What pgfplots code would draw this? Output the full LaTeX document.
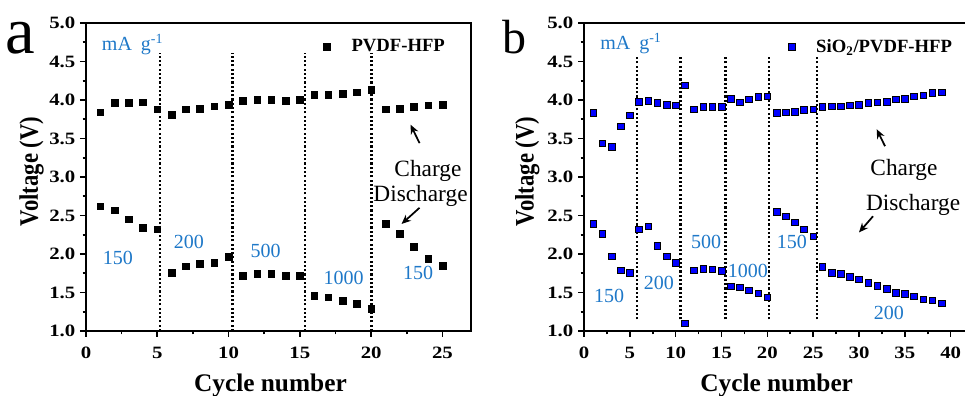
\documentclass[border=0pt]{standalone}
\usepackage{fontspec}
\setmainfont{Liberation Serif}
\newfontfamily\tickfont[FakeStretch=1.2]{Liberation Serif}
\newfontfamily\ylabfont[FakeStretch=0.85]{Liberation Serif}
\usepackage{pgfplots}
\pgfplotsset{compat=1.18}
\usetikzlibrary{arrows.meta}
\definecolor{txtblue}{RGB}{30,120,200}
\definecolor{ptblue}{RGB}{0,0,255}

\pgfplotsset{
  myaxis/.style={
    scale only axis, height=231pt,
    ymin=1, ymax=5, ytick={1,1.5,2,2.5,3,3.5,4,4.5,5},
    yticklabel style={/pgf/number format/.cd, fixed, fixed zerofill, precision=1},
    xticklabel style={yshift=-4pt},
    tick align=outside, xtick pos=left, ytick pos=left,
    major tick length=4.5pt, minor tick length=2.5pt,
    minor x tick num=1, minor y tick num=1,
    axis line style={line width=1.5pt},
    every tick/.append style={line width=1.2pt, black},
    tick label style={font=\tickfont\bfseries\fontsize{13}{15}\selectfont},
    /pgf/number format/assume math mode=true,
    ylabel={Voltage (V)}, xlabel={Cycle number},
    ylabel style={font=\ylabfont\bfseries\fontsize{20}{22}\selectfont, at={(axis description cs:-0.125,0.518)}, anchor=base, rotate=0},
    xlabel style={font=\bfseries\fontsize{19}{21}\selectfont, anchor=base},
    clip=false,
    legend style={draw=none, fill=none, inner sep=0pt, column sep=14pt, font=\bfseries\fontsize{14}{16}\selectfont, anchor=west},
    legend cell align=left,
  },
}
\tikzset{
  dots/.style={black, line width=1.8pt, dash pattern=on 1.6pt off 1.6pt},
  ann/.style={font=\fontsize{15}{17}\selectfont, text=txtblue, inner sep=0pt},
  cd/.style={font=\fontsize{17.5}{19}\selectfont, inner sep=0pt, anchor=base},
  arr/.style={-{Stealth[length=7pt,width=6pt]}, line width=1.3pt, black},
}

\begin{document}
\begin{tikzpicture}

% ---------------- panel a ----------------
\begin{axis}[myaxis, width=288.75pt, at={(64.5pt,48.75pt)}, anchor=south west,
  xmin=0, xmax=27, xtick={0,5,10,15,20,25},
  xlabel style={at={(axis description cs:0.479,-0.197)}},
  legend style={at={(axis cs:16.64,4.69)}}]
\addplot[only marks, mark=square*, mark size=2.5pt, mark options={draw=none, fill=black}] coordinates {
(1,3.84) (2,3.96) (3,3.96) (4,3.97) (5,3.88) (6,3.81) (7,3.88) (8,3.89) (9,3.92) (10,3.94)
(11,3.99) (12,4.00) (13,4.00) (14,3.99) (15,4.00) (16,4.07) (17,4.07) (18,4.08) (19,4.10) (20,4.13)
(21,3.88) (22,3.89) (23,3.91) (24,3.93) (25,3.94)};
\addlegendentry{PVDF-HFP}
\addplot[only marks, mark=square*, mark size=2.5pt, mark options={draw=none, fill=black}, forget plot] coordinates {
(1,2.62) (2,2.57) (3,2.45) (4,2.34) (5,2.32) (6,1.76) (7,1.84) (8,1.87) (9,1.89) (10,1.96)
(11,1.72) (12,1.74) (13,1.74) (14,1.72) (15,1.72) (16,1.46) (17,1.44) (18,1.39) (19,1.35) (20,1.29)
(21,2.39) (22,2.26) (23,2.09) (24,1.94) (25,1.85)};
\addplot[dots, forget plot] coordinates {(5.18,1) (5.18,4.61)};
\addplot[dots, forget plot] coordinates {(10.27,1) (10.27,4.61)};
\addplot[dots, forget plot] coordinates {(15.36,1) (15.36,4.61)};
\addplot[dots, forget plot] coordinates {(20.03,1) (20.03,4.61)};
\node[ann, anchor=base west] at (axis cs:1.1,4.64) {mA\hspace{0.45em}g\textsuperscript{-1}};
\node[ann] at (axis cs:2.24,1.95) {150};
\node[ann] at (axis cs:7.21,2.15) {200};
\node[ann] at (axis cs:12.6,2.04) {500};
\node[ann] at (axis cs:18.07,1.69) {1000};
\node[ann] at (axis cs:23.3,1.76) {150};
\node[cd] at (axis cs:23.98,3.0) {Charge};
\node[cd] at (axis cs:23.46,2.68) {Discharge};
\draw[arr] (axis cs:23.39,3.44) -- (axis cs:22.76,3.68);
\draw[arr] (axis cs:23.39,2.60) -- (axis cs:22.13,2.39);
\end{axis}

% ---------------- panel b ----------------
\begin{axis}[myaxis, width=302.5pt, at={(438pt,48.75pt)}, anchor=south west,
  axis lines*=left, axis line style={-, line width=1.5pt},
  xmin=0, xmax=44, xtick={0,5,10,15,20,25,30,35,40},
  xlabel style={at={(axis description cs:0.4777,-0.197)}},
  legend style={at={(axis cs:22.25,4.69)}}]
\addplot[only marks, mark=square*, mark size=2.5pt, mark options={draw=none, fill=ptblue}] coordinates {
(1,3.83) (2,3.44) (3,3.39) (4,3.66) (5,3.80) (6,3.98) (7,3.99) (8,3.96) (9,3.94) (10,3.93)
(11,4.19) (12,3.88) (13,3.91) (14,3.91) (15,3.91) (16,4.02) (17,3.97) (18,4.01) (19,4.04) (20,4.05)
(21,3.83) (22,3.84) (23,3.85) (24,3.87) (25,3.88) (26,3.91) (27,3.92) (28,3.92) (29,3.93) (30,3.94)
(31,3.96) (32,3.97) (33,3.98) (34,4.01) (35,4.02) (36,4.05) (37,4.06) (38,4.09) (39,4.10)};
\addlegendentry{SiO\textsubscript{2}/PVDF-HFP}
\addplot[only marks, mark=square*, mark size=2.5pt, mark options={draw=none, fill=ptblue}, forget plot] coordinates {
(1,2.39) (2,2.26) (3,1.97) (4,1.79) (5,1.76) (6,2.32) (7,2.36) (8,2.11) (9,1.97) (10,1.89)
(11,1.10) (12,1.79) (13,1.81) (14,1.80) (15,1.78) (16,1.58) (17,1.57) (18,1.53) (19,1.49) (20,1.44)
(21,2.55) (22,2.49) (23,2.41) (24,2.32) (25,2.23) (26,1.83) (27,1.76) (28,1.74) (29,1.70) (30,1.67)
(31,1.63) (32,1.59) (33,1.55) (34,1.50) (35,1.48) (36,1.45) (37,1.41) (38,1.40) (39,1.36)};
\addplot[dots, forget plot] coordinates {(5.75,1.15) (5.75,4.58)};
\addplot[dots, forget plot] coordinates {(10.54,1.15) (10.54,4.58)};
\addplot[dots, forget plot] coordinates {(15.45,1.15) (15.45,4.58)};
\addplot[dots, forget plot] coordinates {(20.2,1.15) (20.2,4.58)};
\addplot[dots, forget plot] coordinates {(25.4,1.15) (25.4,4.58)};
\draw[line width=1.5pt] (rel axis cs:0,1) -- (rel axis cs:1,1);
\node[ann, anchor=base west] at (axis cs:1.75,4.65) {mA\hspace{0.45em}g\textsuperscript{-1}};
\node[ann] at (axis cs:2.73,1.45) {150};
\node[ann] at (axis cs:8.18,1.63) {200};
\node[ann] at (axis cs:13.31,2.15) {500};
\node[ann] at (axis cs:17.89,1.78) {1000};
\node[ann] at (axis cs:22.69,2.15) {150};
\node[ann] at (axis cs:33.27,1.24) {200};
\node[cd] at (axis cs:34.9,3.02) {Charge};
\node[cd] at (axis cs:35.9,2.56) {Discharge};
\draw[arr] (axis cs:32.84,3.40) -- (axis cs:31.93,3.62);
\draw[arr] (axis cs:31.53,2.49) -- (axis cs:30.0,2.28);
\end{axis}

\node[anchor=base west, inner sep=0pt, font=\fontsize{50}{50}\selectfont] at (4pt,257pt) {a};
\node[anchor=base west, inner sep=0pt, font=\fontsize{36}{36}\selectfont] at (377pt,257pt) {b};

\pgfresetboundingbox
\useasboundingbox (0,0) rectangle (723.75pt,297pt);
\end{tikzpicture}
\end{document}
